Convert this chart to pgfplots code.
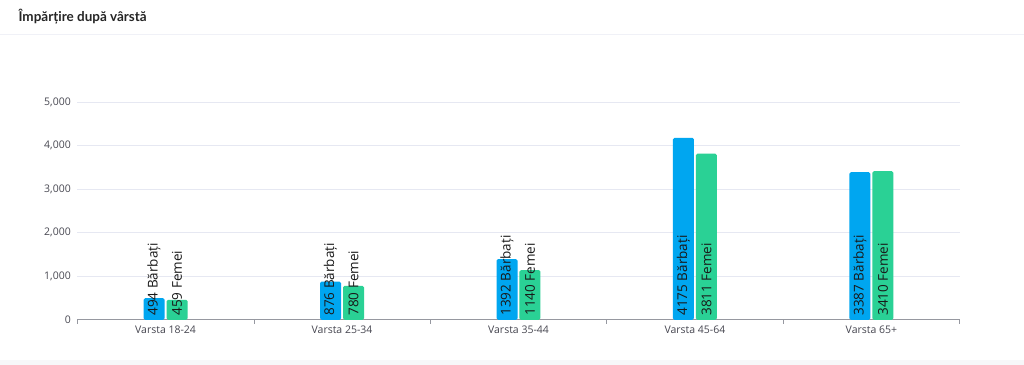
\documentclass[border=0pt]{standalone}
\usepackage{pgfplots}
\pgfplotsset{compat=1.18}
\usepackage{fontspec}
\setmainfont{Open Sans}
\newfontfamily\titlefont{Lato}
\definecolor{cblue}{RGB}{0,166,240}
\definecolor{cgreen}{RGB}{42,209,149}
\definecolor{gridc}{RGB}{230,232,242}
\definecolor{axc}{RGB}{150,152,160}
\definecolor{tickc}{RGB}{70,70,80}
\definecolor{bgc}{RGB}{247,247,249}
\begin{document}
\begin{tikzpicture}[x=1pt,y=1pt]
\fill[bgc] (0,0) rectangle (1024,365);
\fill[white] (0,5) rectangle (1024,365);
\draw[gridc!60, line width=0.8pt] (0,331) -- (1024,331);
\node[anchor=base west, font=\titlefont\fontsize{13.5}{15}\selectfont\bfseries, text=black!85, inner sep=0pt] at (18,343) {Împărțire după vârstă};
\begin{axis}[
  at={(77pt,45pt)}, anchor=south west,
  scale only axis, width=883pt, height=218pt,
  xmin=-0.5, xmax=4.5, ymin=0, ymax=5000,
  ybar, bar width=21pt,
  axis x line*=bottom, axis y line*=left,
  x axis line style={axc, line width=0.8pt},
  y axis line style={draw=none},
  xtick={0,1,2,3,4},
  xticklabels={Varsta 18-24,Varsta 25-34,Varsta 35-44,Varsta 45-64,Varsta 65+},
  major tick length=0pt,
  tick style={axc, line width=0.6pt},
  tick align=outside,
  extra x ticks={-0.5,0.5,1.5,2.5,3.5,4.5},
  extra x tick labels={},
  extra x tick style={major tick length=4pt, grid=none},
  ytick={0,1000,2000,3000,4000,5000},
  ymajorgrids, grid style={gridc, line width=0.7pt},
  yticklabel style={font=\fontsize{10.5}{12}\selectfont, text=tickc, xshift=-3pt},
  xticklabel style={font=\fontsize{10.5}{12}\selectfont, text=tickc, yshift=-3pt},
  /pgf/number format/assume math mode=true,
  /pgf/number format/1000 sep={,},
  clip=false,
]
\addplot[fill=cblue, draw=none, bar shift=-11.5pt, rounded corners=1.5pt] coordinates {(0,494) (1,876) (2,1392) (3,4175) (4,3387)};
\addplot[fill=cgreen, draw=none, bar shift=11.5pt, rounded corners=1.5pt] coordinates {(0,459) (1,780) (2,1140) (3,3811) (4,3410)};
\addplot[draw=none, fill=none, bar shift=-11.5pt, point meta=explicit symbolic,
  nodes near coords,
  every node near coord/.append style={anchor=west, rotate=90, font=\fontsize{13.5}{15}\selectfont, text=black!90, inner xsep=4pt, inner ysep=0pt}]
  coordinates {(0,0) [494 Bărbați] (1,0) [876 Bărbați] (2,0) [1392 Bărbați] (3,0) [4175 Bărbați] (4,0) [3387 Bărbați]};
\addplot[draw=none, fill=none, bar shift=11.5pt, point meta=explicit symbolic,
  nodes near coords,
  every node near coord/.append style={anchor=west, rotate=90, font=\fontsize{13.5}{15}\selectfont, text=black!90, inner xsep=4pt, inner ysep=0pt}]
  coordinates {(0,0) [459 Femei] (1,0) [780 Femei] (2,0) [1140 Femei] (3,0) [3811 Femei] (4,0) [3410 Femei]};
\end{axis}
\end{tikzpicture}
\end{document}
